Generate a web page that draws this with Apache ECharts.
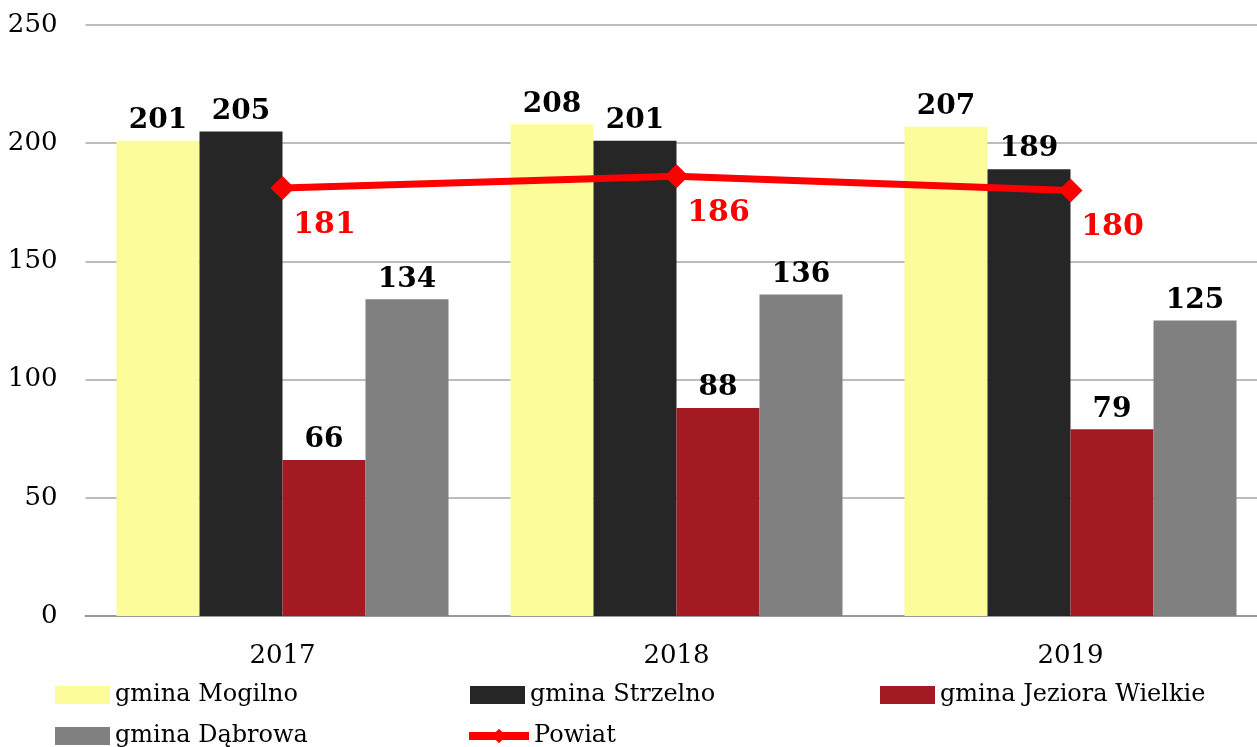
<!DOCTYPE html>
<html>
<head>
<meta charset="utf-8">
<script src="https://cdn.jsdelivr.net/npm/echarts@6/dist/echarts.min.js"></script>
<style>
html, body { margin: 0; padding: 0; background: #fff; }
#container { width: 1257px; height: 747px; }
</style>
</head>
<body>
<div id="container"></div>
<script>
var years = ['2017', '2018', '2019'];
var mogilno = [201, 208, 207];
var strzelno = [205, 201, 189];
var jeziora = [66, 88, 79];
var dabrowa = [134, 136, 125];
var powiat = [181, 186, 180];

var names = ['gmina Mogilno', 'gmina Strzelno', 'gmina Jeziora Wielkie', 'gmina Dąbrowa', 'Powiat'];
var colors = ['#FCFC9A', '#262626', '#A31A22', '#808080', '#FF0000'];

var dom = document.getElementById('container');
var myChart = echarts.init(dom);
var serif = 'DejaVu Serif';

var barLabel = {
    show: true,
    position: 'top',
    distance: 6,
    color: '#000',
    fontFamily: serif,
    fontWeight: 'bold',
    fontSize: 28
};

function bar(i, values) {
    return {
        name: names[i],
        type: 'bar',
        barWidth: 83,
        barGap: '0%',
        itemStyle: { color: colors[i] },
        label: barLabel,
        data: values
    };
}

function legendAt(i, left, top) {
    return {
        data: [{ name: names[i], icon: i === 4 ? undefined : 'rect' }],
        left: left,
        top: top,
        itemWidth: i === 4 ? 60 : 55,
        itemHeight: 18,
        lineStyle: { width: 8 },
        textStyle: { fontFamily: serif, fontSize: 24, color: '#000' }
    };
}

var option = {
    animation: false,
    color: colors,
    grid: {
        left: 85.5,
        width: 1182,
        top: 25,
        bottom: 131,
        containLabel: false,
        outerBoundsMode: 'none'
    },
    legend: [
        legendAt(0, 50, 678),
        legendAt(1, 465, 678),
        legendAt(2, 875, 678),
        legendAt(3, 50, 719),
        legendAt(4, 460, 719)
    ],
    xAxis: {
        type: 'category',
        data: years,
        axisTick: { show: false },
        axisLine: { lineStyle: { color: '#999', width: 2 } },
        axisLabel: { color: '#000', fontFamily: serif, fontSize: 26, margin: 27 }
    },
    yAxis: {
        type: 'value',
        min: 0,
        max: 250,
        interval: 50,
        axisLine: { show: false },
        axisTick: { show: false },
        splitLine: { lineStyle: { color: '#A6A6A6', width: 1.5 } },
        axisLabel: { color: '#000', fontFamily: serif, fontSize: 26, margin: 28 }
    },
    series: [
        bar(0, mogilno),
        bar(1, strzelno),
        bar(2, jeziora),
        bar(3, dabrowa),
        {
            name: names[4],
            type: 'line',
            symbol: 'diamond',
            symbolSize: 24,
            itemStyle: { color: '#FF0000' },
            lineStyle: { color: '#FF0000', width: 7 },
            label: {
                show: true,
                position: 'bottom',
                distance: 10,
                offset: [42, 0],
                color: '#FF0000',
                fontFamily: serif,
                fontWeight: 'bold',
                fontSize: 30
            },
            data: powiat,
            z: 5
        }
    ]
};

myChart.setOption(option);
</script>
</body>
</html>
